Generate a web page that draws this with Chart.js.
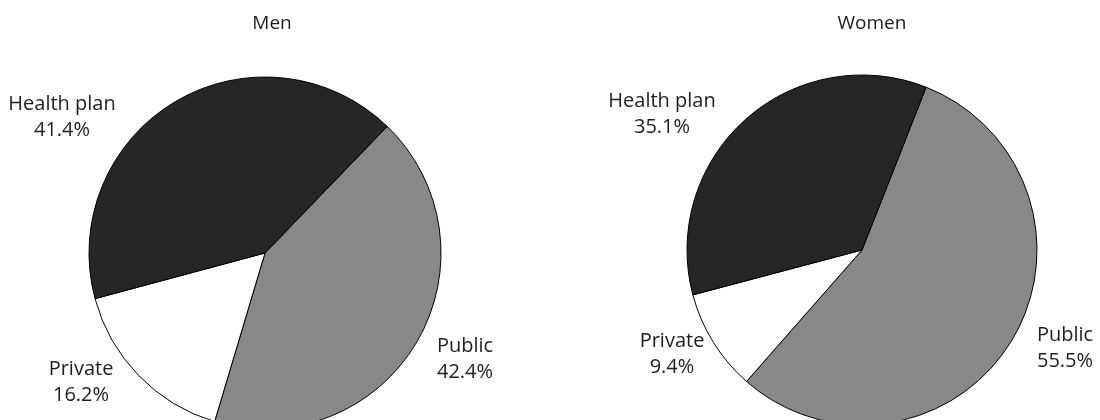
<!DOCTYPE html>
<html><head><meta charset="utf-8">
<script src="https://cdn.jsdelivr.net/npm/chart.js@4/dist/chart.umd.min.js"></script>
<style>
html,body{margin:0;padding:0;background:#fff;overflow:hidden;width:1100px;height:420px;}
.wrap{position:absolute;top:0;width:550px;height:520px;}
</style></head><body>
<div class="wrap" style="left:0"><canvas id="men" width="550" height="520"></canvas></div>
<div class="wrap" style="left:550px"><canvas id="women" width="550" height="520"></canvas></div>
<script>
// ---- data ----
const categories = ['Public', 'Private', 'Health plan'];
const menValues = [42.4, 16.2, 41.4];
const womenValues = [55.5, 9.4, 35.1];
const panelTitles = ['Men', 'Women'];
const sliceColors = ['#888888', '#ffffff', '#262626'];

const LABEL_FONT = '20px "Open Sans"';
const TITLE_FONT = '19px "Open Sans"';
const TEXT_COLOR = '#1e1e1e';

const pieLabels = {
  id: 'pieLabels',
  afterDraw(chart, args, opts) {
    const ctx = chart.ctx;
    ctx.save();
    ctx.fillStyle = TEXT_COLOR;
    ctx.textAlign = 'center';
    ctx.textBaseline = 'alphabetic';
    ctx.font = TITLE_FONT;
    ctx.fillText(opts.title, opts.titleX, opts.titleY);
    ctx.font = LABEL_FONT;
    const meta = chart.getDatasetMeta(0);
    const vals = chart.data.datasets[0].data;
    meta.data.forEach((el, i) => {
      const x = el.x + opts.offsets[i][0];
      const y = el.y + opts.offsets[i][1];
      ctx.fillText(chart.data.labels[i], x, y);
      ctx.fillText(vals[i].toFixed(1) + '%', x, y + opts.lineGap);
    });
    ctx.restore();
  }
};

function makePie(id, values, title, cfg) {
  return new Chart(document.getElementById(id), {
    type: 'pie',
    data: {
      labels: categories,
      datasets: [{
        data: values,
        backgroundColor: sliceColors,
        borderColor: '#000000',
        borderWidth: 1
      }]
    },
    options: {
      responsive: false,
      animation: false,
      rotation: cfg.rotation,
      radius: cfg.radius,
      layout: { padding: cfg.padding },
      plugins: {
        legend: { display: false },
        tooltip: { enabled: false },
        pieLabels: {
          title: title,
          titleX: cfg.titleX,
          titleY: cfg.titleY,
          offsets: cfg.offsets,
          lineGap: 25.5
        }
      }
    },
    plugins: [pieLabels]
  });
}

function draw() {
  makePie('men', menValues, panelTitles[0], {
    rotation: 44,
    radius: 176,
    padding: { left: 89, right: 109, top: 77, bottom: 91 },
    titleX: 272, titleY: 29,
    offsets: [[200, 99], [-184, 122], [-203, -143]]
  });
  makePie('women', womenValues, panelTitles[1], {
    rotation: 21.5,
    radius: 175,
    padding: { left: 137, right: 63, top: 75, bottom: 95 },
    titleX: 322, titleY: 29,
    offsets: [[203, 91], [-190, 97], [-200, -143]]
  });
}

Promise.all([
  document.fonts.load(LABEL_FONT),
  document.fonts.load(TITLE_FONT)
]).then(draw, draw);
</script>
</body></html>
